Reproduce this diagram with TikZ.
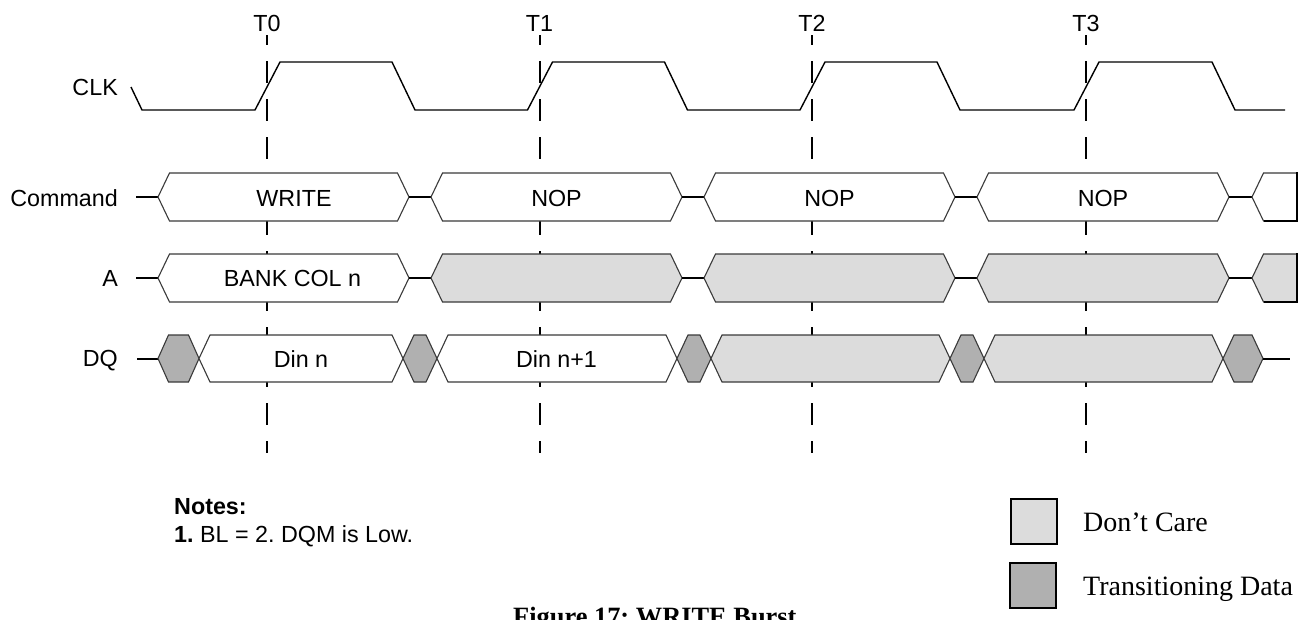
\documentclass[tikz,border=0pt]{standalone}
\usepackage{fontspec}
\setmainfont{Liberation Sans}
\newfontfamily\seriffam{Liberation Serif}
\frenchspacing
\definecolor{dcfill}{HTML}{DCDCDC}
\definecolor{trfill}{HTML}{B0B0B0}
\definecolor{busline}{HTML}{3A3A3A}
\newcommand{\bseg}[6]{%
  \filldraw[#1] (#2,#4) -- (#2+#6,#4-#5) -- (#3-#6,#4-#5) -- (#3,#4) -- (#3-#6,#4+#5) -- (#2+#6,#4+#5) -- cycle;}
\begin{document}
\begin{tikzpicture}[x=1pt,y=-1pt,
  lbl/.style={font=\fontsize{23.3}{27}\selectfont, inner sep=0pt},
  leg/.style={font=\seriffam\fontsize{28}{32}\selectfont, inner sep=0pt, anchor=base west},
  tick/.style={line width=2pt, dash pattern=on 22pt off 16pt, dash phase=12pt},
  clk/.style={line width=1.4pt, line join=round},
  lead/.style={line width=2pt},
  wbus/.style={draw=busline, fill=white, line width=1.1pt},
  dbus/.style={draw=busline, fill=dcfill, line width=1.1pt},
  tbus/.style={draw=busline, fill=trfill, line width=1.1pt},
  legbox/.style={draw=black, line width=2pt}]
\useasboundingbox (0,0) rectangle (1307,619);
\clip (0,0) rectangle (1307,619);

% time markers
\foreach \x/\t in {267/T0,539.5/T1,812/T2,1086/T3}{
  \node[lbl, anchor=base] (lab\t) at (\x,31) {\t};
  \coordinate (top\t) at (\x,35);
  \coordinate (bot\t) at (\x,453);
  \draw[tick] (top\t) -- (bot\t);
}

% signal names
\node[lbl, anchor=base east] (nclk) at (118,95) {CLK};
\node[lbl, anchor=base east] (ncmd) at (118,206) {Command};
\node[lbl, anchor=base east] (na) at (118,286.5) {A};
\node[lbl, anchor=base east] (ndq) at (118,366) {DQ};

% clock
\draw[clk] (131,87) -- (142,110)
  -- (255,110) -- (280,62) -- (392,62) -- (415,110)
  -- (527.5,110) -- (552.5,62) -- (664.5,62) -- (687.5,110)
  -- (800,110) -- (825,62) -- (937,62) -- (960,110)
  -- (1074,110) -- (1099,62) -- (1212,62) -- (1235,110)
  -- (1285,110);

% Command bus
\draw[lead] (136,197) -- (158,197);
\bseg{wbus}{158}{409}{197}{24}{11.5}
\draw[lead] (409,197) -- (431,197);
\bseg{wbus}{431}{682}{197}{24}{11.5}
\draw[lead] (682,197) -- (704,197);
\bseg{wbus}{704}{955}{197}{24}{11.5}
\draw[lead] (955,197) -- (977,197);
\bseg{wbus}{977}{1229}{197}{24}{11.5}
\draw[lead] (1229,197) -- (1252,197);
\filldraw[wbus] (1252,197) -- (1263.5,173) -- (1297,173) -- (1297,221) -- (1263.5,221) -- cycle;
\draw[lead] (1297,172) -- (1297,221) -- (1263.5,221);
\node[lbl, anchor=base] (cw) at (294,206) {WRITE};
\node[lbl, anchor=base] (cn1) at (556.5,206) {NOP};
\node[lbl, anchor=base] (cn2) at (829.5,206) {NOP};
\node[lbl, anchor=base] (cn3) at (1103,206) {NOP};

% A bus
\draw[lead] (136,278) -- (158,278);
\bseg{wbus}{158}{409}{278}{24}{11.5}
\draw[lead] (409,278) -- (431,278);
\bseg{dbus}{431}{682}{278}{24}{11.5}
\draw[lead] (682,278) -- (704,278);
\bseg{dbus}{704}{955}{278}{24}{11.5}
\draw[lead] (955,278) -- (977,278);
\bseg{dbus}{977}{1229}{278}{24}{11.5}
\draw[lead] (1229,278) -- (1252,278);
\filldraw[dbus] (1252,278) -- (1263.5,254) -- (1297,254) -- (1297,302) -- (1263.5,302) -- cycle;
\draw[lead] (1297,253) -- (1297,302) -- (1263.5,302);
\node[lbl, anchor=base] (abank) at (292.5,286.5) {BANK COL n};

% DQ bus
\draw[lead] (137,358.5) -- (158,358.5);
\bseg{tbus}{158}{199}{358.5}{23.5}{10.5}
\bseg{wbus}{199}{403}{358.5}{23.5}{11}
\bseg{tbus}{403}{437}{358.5}{23.5}{11}
\bseg{wbus}{437}{677}{358.5}{23.5}{11}
\bseg{tbus}{677}{711}{358.5}{23.5}{11}
\bseg{dbus}{711}{950}{358.5}{23.5}{11}
\bseg{tbus}{950}{984}{358.5}{23.5}{11}
\bseg{dbus}{984}{1223}{358.5}{23.5}{11}
\bseg{tbus}{1223}{1263}{358.5}{23.5}{11}
\draw[lead] (1263,358.5) -- (1290,358.5);
\node[lbl, anchor=base] (d0) at (301,367) {Din n};
\node[lbl, anchor=base] (d1) at (556.5,367) {Din n+1};

% notes
\node[lbl, anchor=base west] (notes) at (174,514) {\bfseries Notes:};
\node[lbl, anchor=base west] (note1) at (174,542) {\textbf{1.} BL = 2. DQM is Low.};

% legend
\filldraw[legbox, fill=dcfill] (1011,499) rectangle (1057,544);
\filldraw[legbox, fill=trfill] (1010,563) rectangle (1056,608);
\node[leg] (ldc) at (1083,531) {Don’t Care};
\node[leg] (ltr) at (1083,595) {Transitioning Data};

% caption (cut by the lower edge, as in the reference)
\node[font=\seriffam\bfseries\fontsize{26.4}{30}\selectfont, inner sep=0pt, anchor=base west] (cap) at (513,625) {Figure 17: WRITE Burst};
\end{tikzpicture}
\end{document}
